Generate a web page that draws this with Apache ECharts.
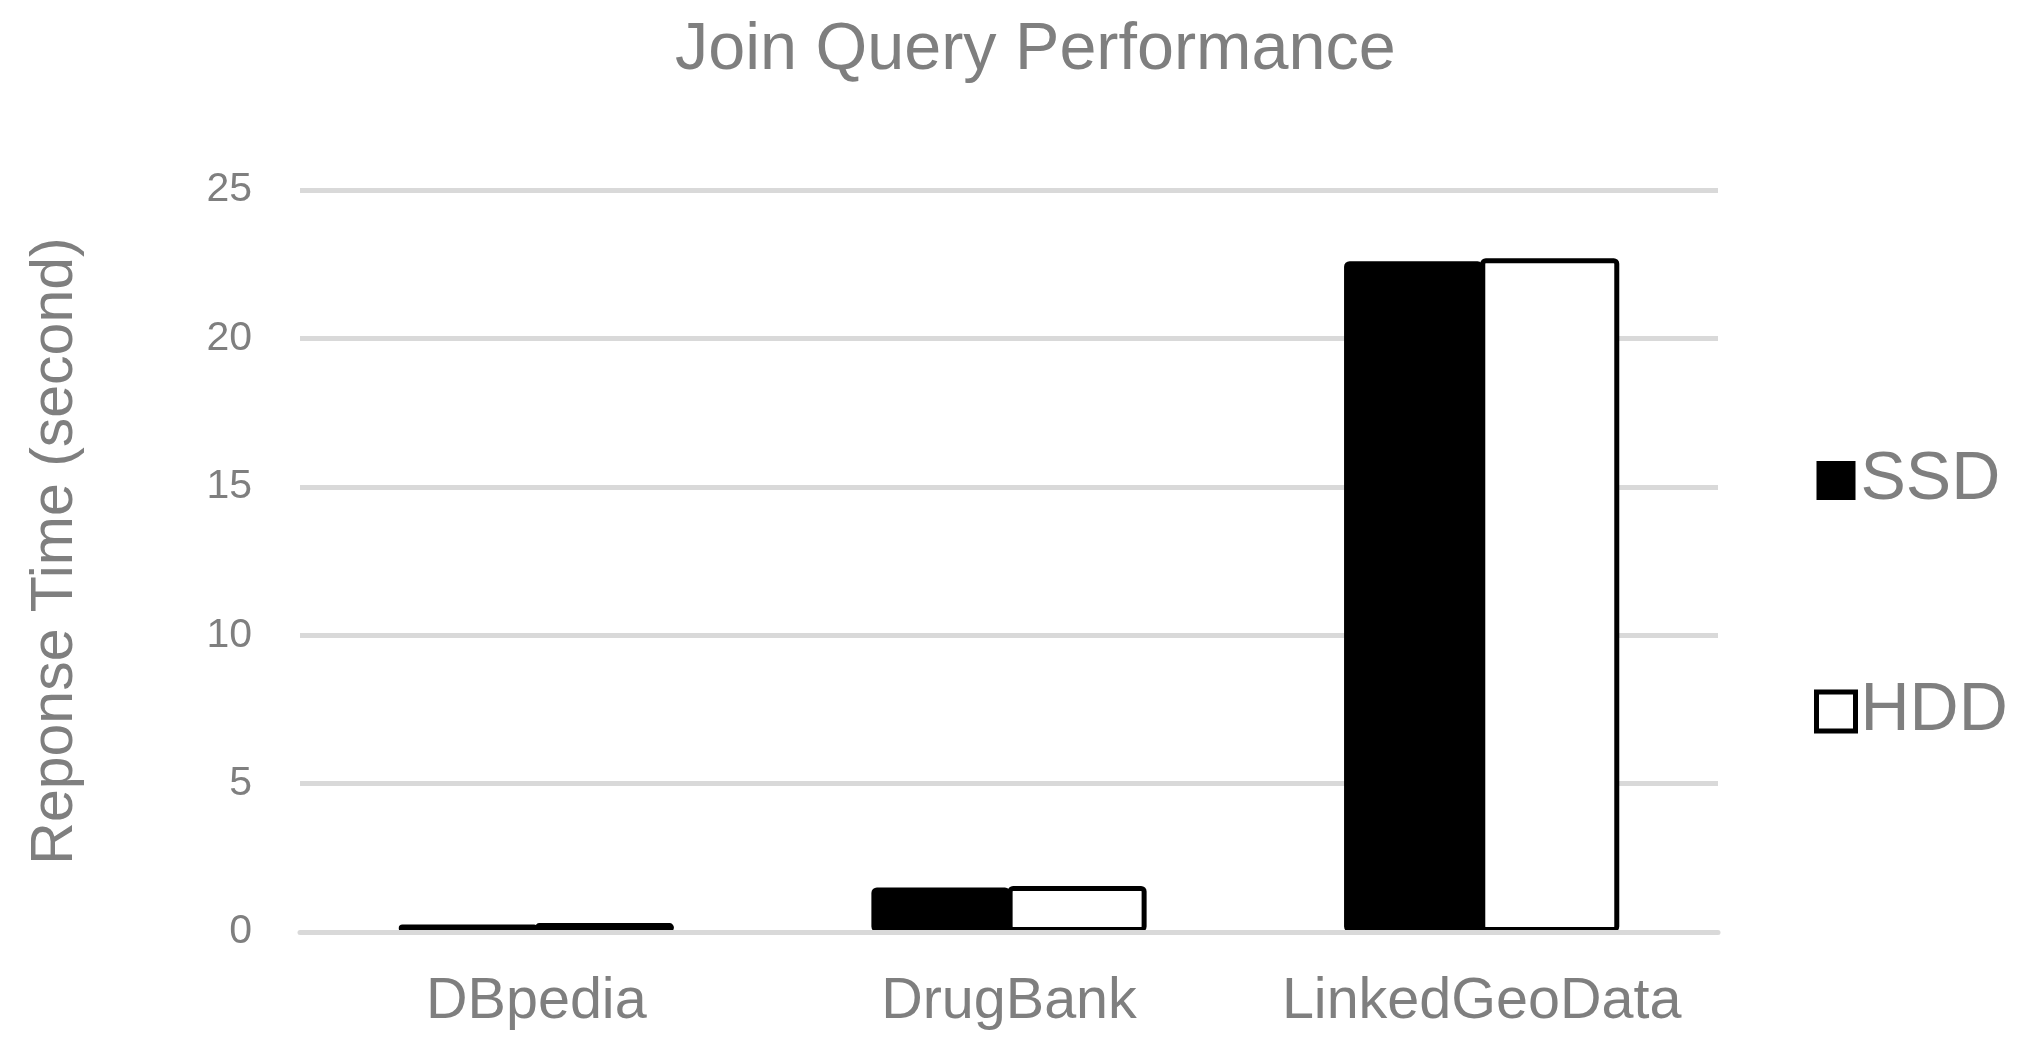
<!DOCTYPE html>
<html>
<head>
<meta charset="utf-8">
<title>Join Query Performance</title>
<script src="https://cdn.jsdelivr.net/npm/echarts@6/dist/echarts.min.js"></script>
<style>
  html, body { margin: 0; padding: 0; background: #fff; }
  #chart { width: 2025px; height: 1053px; }
</style>
</head>
<body>
<div id="chart"></div>
<script>
  // data
  const categories = ['DBpedia', 'DrugBank', 'LinkedGeoData']
  const ssdData = [0.25, 1.5, 22.6]
  const hddData = [0.3, 1.55, 22.7]
  const legendNames = ['SSD', 'HDD']

  const textGrey = '#7f7f7f'
  const gridGrey = '#d9d9d9'
  const font = 'Liberation Sans, Arial, sans-serif'

  const chart = echarts.init(document.getElementById('chart'))
  chart.setOption({
    animation: false,
    title: {
      text: 'Join Query Performance',
      left: 670,
      top: 13,
      textStyle: {
        color: textGrey,
        fontFamily: font,
        fontWeight: 'normal',
        fontSize: 66.5,
        lineHeight: 66
      }
    },
    legend: {
      orient: 'vertical',
      left: 1809,
      top: 441,
      itemWidth: 39,
      itemHeight: 39,
      itemGap: 162,
      icon: 'rect',
      textStyle: {
        color: textGrey,
        fontFamily: font,
        fontSize: 68,
        lineHeight: 69
      },
      data: [
        { name: legendNames[0], itemStyle: { color: '#000', borderColor: '#000', borderWidth: 0 } },
        { name: legendNames[1], itemStyle: { color: '#fff', borderColor: '#000', borderWidth: 5 } }
      ]
    },
    grid: {
      left: 300,
      right: 307,
      top: 190,
      bottom: 121
    },
    xAxis: {
      type: 'category',
      data: categories,
      z: 3,
      axisLine: {
        show: true,
        lineStyle: { color: gridGrey, width: 5 }
      },
      axisTick: { show: false },
      axisLabel: {
        interval: 0,
        color: textGrey,
        fontFamily: font,
        fontSize: 57.5,
        lineHeight: 57,
        margin: 42
      }
    },
    yAxis: {
      type: 'value',
      min: 0,
      max: 25,
      interval: 5,
      name: 'Reponse Time (second)',
      nameLocation: 'middle',
      nameRotate: 90,
      nameGap: 215,
      nameTextStyle: {
        color: textGrey,
        fontFamily: font,
        fontSize: 59,
        lineHeight: 59,
        padding: [0, 0, 0, 20]
      },
      axisLine: { show: false },
      axisTick: { show: false },
      splitLine: {
        lineStyle: { color: gridGrey, width: 5 }
      },
      axisLabel: {
        color: textGrey,
        fontFamily: font,
        fontSize: 41,
        margin: 48
      }
    },
    series: [
      {
        name: legendNames[0],
        type: 'bar',
        data: ssdData,
        barWidth: 139,
        barGap: '-2%',
        itemStyle: {
          color: '#000',
          borderColor: '#000',
          borderWidth: 5,
          borderRadius: 3
        }
      },
      {
        name: legendNames[1],
        type: 'bar',
        data: hddData,
        barWidth: 139,
        barGap: '-2%',
        itemStyle: {
          color: '#fff',
          borderColor: '#000',
          borderWidth: 5,
          borderRadius: 3
        }
      }
    ]
  })
</script>
</body>
</html>
